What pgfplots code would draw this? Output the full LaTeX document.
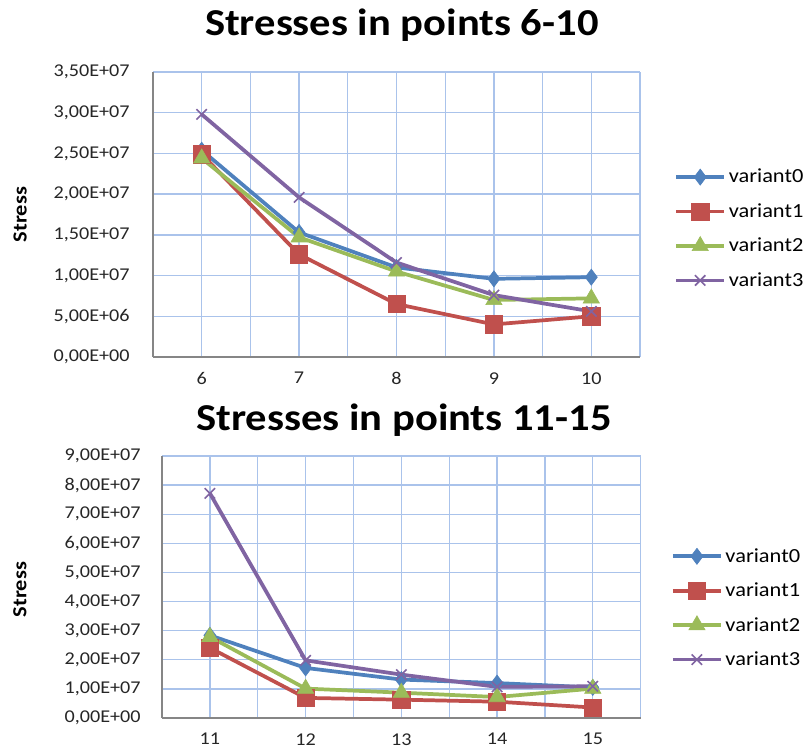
\documentclass[border=0pt]{standalone}
\usepackage{pgfplots}
\pgfplotsset{compat=1.18}
\usepackage{fontspec}
\setmainfont{Carlito}[FakeStretch=1.12]

\definecolor{cBlue}{RGB}{79,129,189}
\definecolor{cRed}{RGB}{192,80,77}
\definecolor{cGreen}{RGB}{155,187,89}
\definecolor{cPurple}{RGB}{128,100,162}
\definecolor{gridBlue}{RGB}{170,195,235}
\definecolor{axisGrey}{RGB}{134,134,134}

\pgfplotsset{
  stressplot/.style={
    scale only axis,
    axis lines=left,
    axis line style={axisGrey, line width=1pt, -},
    grid=both,
    major grid style={gridBlue, line width=1pt},
    minor grid style={gridBlue, line width=1pt},
    major tick length=0pt,
    minor tick length=0pt,
    scaled ticks=false,
    tick label style={font=\fontsize{13.5}{16}\selectfont, color=black!85},
    xticklabel style={yshift=-8pt},
    ylabel={Stress},
    ylabel style={font=\bfseries\fontsize{15}{17}\selectfont, anchor=center},
    title style={font=\bfseries\fontsize{28.5}{34}\selectfont, at={(0.5,1)}, anchor=center},
    legend cell align=left,
    legend style={draw=none, fill=none, font=\fontsize{15}{17}\selectfont, anchor=west,
      row sep=10pt, inner sep=0pt},
    legend image code/.code={
      \draw[mark repeat=2, mark phase=2] plot coordinates {(0pt,0pt)(18pt,0pt)(36pt,0pt)};
    },
    every axis plot/.append style={line width=2.8pt},
  },
  v0/.style={color=cBlue, mark=diamond*, mark size=6pt, mark options={fill=cBlue, line width=0.5pt}},
  v1/.style={color=cRed, mark=square*, mark size=6.5pt, mark options={fill=cRed, line width=0.5pt}},
  v2/.style={color=cGreen, mark=triangle*, mark size=7pt, mark options={fill=cGreen, line width=0.5pt}},
  v3/.style={color=cPurple, mark=x, mark size=5.5pt, mark options={line width=1.2pt}},
}

\begin{document}
\begin{tikzpicture}
\useasboundingbox (0,0) rectangle (604.5pt,564pt);

% points 6-10
\begin{axis}[stressplot,
  at={(114.75pt,296.25pt)}, anchor=south west,
  width=365.25pt, height=213.75pt,
  xmin=5.5, xmax=10.5,
  xtick={6,7,8,9,10}, xticklabels={6,7,8,9,10},
  minor xtick={6.5,7.5,8.5,9.5,10.5},
  ymin=0, ymax=3.5e7,
  ytick={0,5e6,1e7,1.5e7,2e7,2.5e7,3e7,3.5e7},
  yticklabels={{0,00E+00},{5,00E+06},{1,00E+07},{1,50E+07},{2,00E+07},{2,50E+07},{3,00E+07},{3,50E+07}},
  yticklabel style={xshift=-14pt},
  title={Stresses in points 6-10},
  title style={yshift=29pt, xshift=4pt},
  ylabel style={at={(axis description cs:-0.273,0.5)}},
  legend style={at={(axis description cs:1.07,0.45)}},
]
\addplot[v0] coordinates {(6,2.54e7)(7,1.53e7)(8,1.10e7)(9,0.96e7)(10,0.98e7)};
\addplot[v1] coordinates {(6,2.49e7)(7,1.26e7)(8,0.65e7)(9,0.40e7)(10,0.50e7)};
\addplot[v2] coordinates {(6,2.44e7)(7,1.47e7)(8,1.05e7)(9,0.70e7)(10,0.72e7)};
\addplot[v3] coordinates {(6,2.98e7)(7,1.96e7)(8,1.16e7)(9,0.76e7)(10,0.56e7)};
\legend{variant0,variant1,variant2,variant3}
\end{axis}

% points 11-15
\begin{axis}[stressplot,
  at={(121.5pt,25.5pt)}, anchor=south west,
  width=359pt, height=196.5pt,
  xmin=10.5, xmax=15.5,
  xtick={11,12,13,14,15}, xticklabels={11,12,13,14,15},
  minor xtick={11.5,12.5,13.5,14.5,15.5},
  ymin=0, ymax=9e7,
  ytick={0,1e7,2e7,3e7,4e7,5e7,6e7,7e7,8e7,9e7},
  yticklabels={{0,00E+00},{1,00E+07},{2,00E+07},{3,00E+07},{4,00E+07},{5,00E+07},{6,00E+07},{7,00E+07},{8,00E+07},{9,00E+07}},
  yticklabel style={xshift=-12.5pt},
  title={Stresses in points 11-15},
  title style={yshift=21pt, xshift=2pt},
  ylabel style={at={(axis description cs:-0.297,0.49)}},
  legend style={at={(axis description cs:1.063,0.42)}},
]
\addplot[v0] coordinates {(11,2.84e7)(12,1.72e7)(13,1.32e7)(14,1.20e7)(15,1.05e7)};
\addplot[v1] coordinates {(11,2.41e7)(12,0.69e7)(13,0.63e7)(14,0.56e7)(15,0.36e7)};
\addplot[v2] coordinates {(11,2.79e7)(12,1.01e7)(13,0.87e7)(14,0.72e7)(15,1.01e7)};
\addplot[v3] coordinates {(11,7.72e7)(12,1.98e7)(13,1.49e7)(14,1.07e7)(15,1.09e7)};
\legend{variant0,variant1,variant2,variant3}
\end{axis}
\end{tikzpicture}
\end{document}
